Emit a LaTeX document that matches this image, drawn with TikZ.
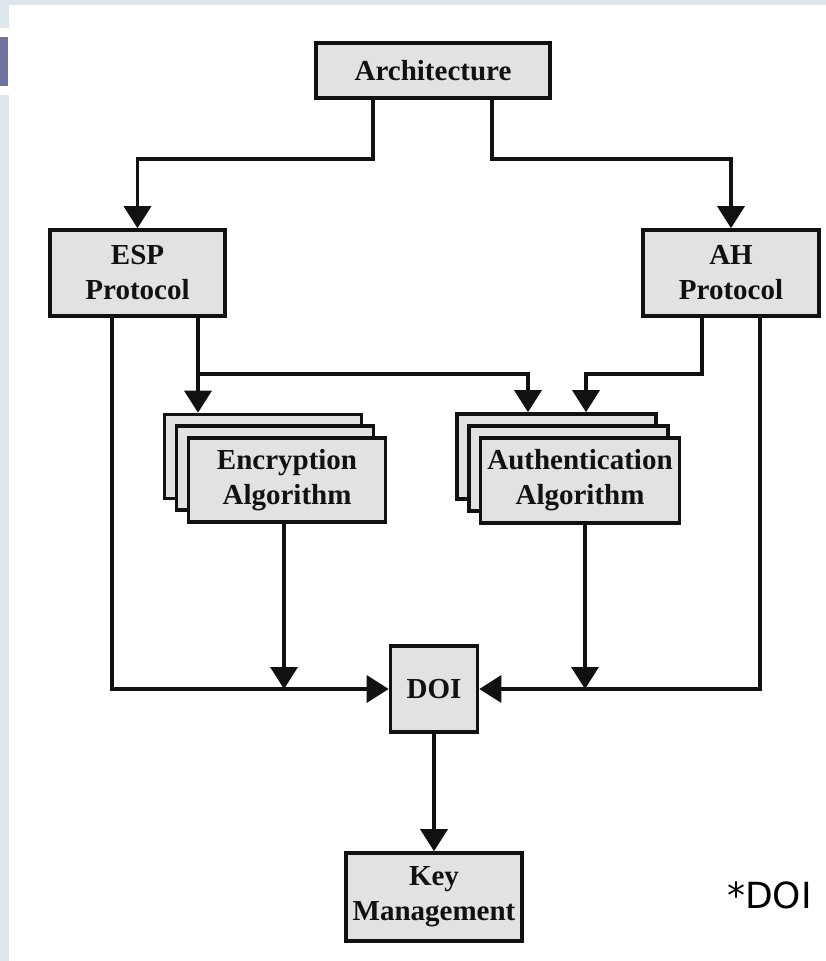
\documentclass[tikz,border=0pt]{standalone}
\usepackage{fontspec}
\setmainfont{Liberation Serif}
\newfontfamily\dejavu{DejaVu Sans}
\usetikzlibrary{arrows.meta}
\definecolor{boxfill}{RGB}{226,226,226}
\definecolor{stripcol}{RGB}{220,230,236}
\definecolor{purp}{RGB}{110,115,160}
\definecolor{ink}{RGB}{17,17,17}
\begin{document}
\begin{tikzpicture}[x=1pt,y=-1pt,
  box/.style={draw=ink, fill=boxfill, line width=3.6pt, inner sep=0pt, align=center,
    font=\fontsize{29}{35}\selectfont\bfseries, text=ink},
  conn/.style={draw=ink, line width=3.4pt},
  arr/.style={conn, -{Triangle[width=27pt,length=22pt]}}]
% background and page frame
\useasboundingbox (0,0) rectangle (826,961);
\fill[white] (0,0) rectangle (826,961);
\fill[stripcol] (0,0) rectangle (826,5);
\fill[stripcol] (0,0) rectangle (9,961);
\fill[white] (0,28) rectangle (9,95);
\fill[purp] (0,37) rectangle (8,86);
% nodes
\node[box, minimum width=234pt, minimum height=55pt] (arch) at (433,70.5) {Architecture};
\node[box, minimum width=175pt, minimum height=86pt] (esp) at (137.5,273) {ESP\\Protocol};
\node[box, minimum width=176pt, minimum height=86pt] (ah) at (731,273) {AH\\Protocol};
\node[box, minimum width=197pt, minimum height=84pt] (encback) at (263,456.5) {};
\node[box, minimum width=197pt, minimum height=84pt] (encmid) at (275,468) {};
\node[box, minimum width=197pt, minimum height=84pt] (enc) at (287,480) {Encryption\\Algorithm};
\node[box, minimum width=199pt, minimum height=85pt] (authback) at (556.5,456.5) {};
\node[box, minimum width=199pt, minimum height=85pt] (authmid) at (568.5,468.5) {};
\node[box, minimum width=199pt, minimum height=85pt] (auth) at (580,480.5) {Authentication\\Algorithm};
\node[box, minimum width=87pt, minimum height=86pt] (doi) at (434,689) {DOI};
\node[box, minimum width=176pt, minimum height=88pt] (key) at (434,897) {Key\\Management};
\node[font=\dejavu\fontsize{36}{40}\selectfont, text=black, anchor=base west, inner sep=0pt] (note) at (727,908) {*DOI};
% junction coordinates
\coordinate (a1) at (373,159);
\coordinate (a2) at (492,159);
\coordinate (e1) at (198,374);
\coordinate (e2) at (528,374);
\coordinate (h1) at (702,374);
\coordinate (h2) at (586,374);
\coordinate (l1) at (112,689);
\coordinate (r1) at (760,689);
\coordinate (d1) at (284,689);
\coordinate (d2) at (585,689);
% connectors
\draw[arr] (arch.south -| a1) -- (a1) -| (esp.north);
\draw[arr] (arch.south -| a2) -- (a2) -| (ah.north);
\draw[arr] (esp.south -| e1) -- (e1 |- encback.north);
\draw[arr] (e1) -- (e2) -- (e2 |- authback.north);
\draw[arr] (ah.south -| h1) -- (h1) -- (h2) -- (h2 |- authback.north);
\draw[arr] (esp.south -| l1) -- (l1) -- (doi.west);
\draw[arr] (ah.south -| r1) -- (r1) -- (doi.east);
\draw[arr] (enc.south -| d1) -- (d1);
\draw[arr] (auth.south -| d2) -- (d2);
\draw[arr] (doi.south) -- (key.north);
\end{tikzpicture}
\end{document}
